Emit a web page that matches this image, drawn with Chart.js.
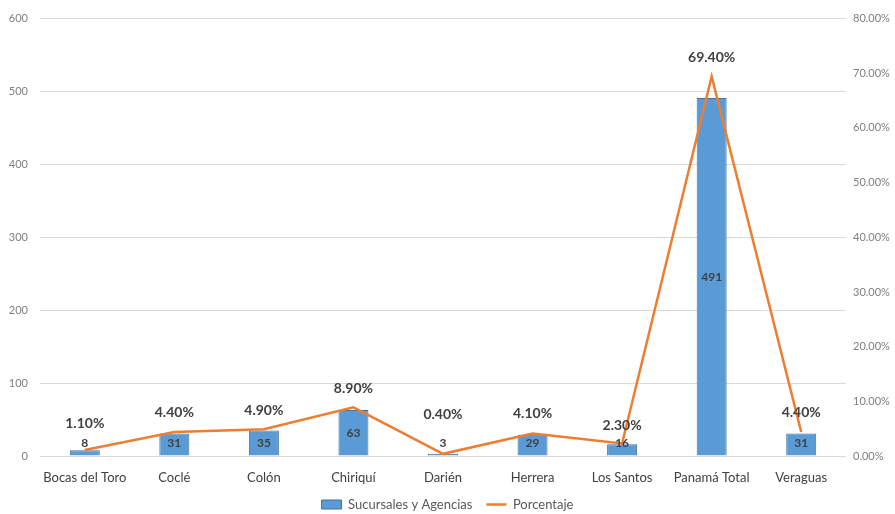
<!DOCTYPE html>
<html>
<head>
<meta charset="utf-8">
<script src="https://cdn.jsdelivr.net/npm/chart.js@4/dist/chart.umd.min.js"></script>
<style>
  html, body { margin: 0; padding: 0; background: #ffffff; }
  #wrap { width: 895px; height: 514px; position: relative; }
</style>
</head>
<body>
<div id="wrap"><canvas id="c"></canvas></div>
<script>
const categories = ['Bocas del Toro', 'Coclé', 'Colón', 'Chiriquí', 'Darién', 'Herrera', 'Los Santos', 'Panamá Total', 'Veraguas'];
const sucursales = [8, 31, 35, 63, 3, 29, 16, 491, 31];
const porcentaje = [0.011, 0.044, 0.049, 0.089, 0.004, 0.041, 0.023, 0.694, 0.044];
const leftTicks = [0, 100, 200, 300, 400, 500, 600];
const rightTicks = [0, 0.1, 0.2, 0.3, 0.4, 0.5, 0.6, 0.7, 0.8];

const FONT = 'Lato, "Open Sans", sans-serif';

const labelsPlugin = {
  id: 'valueLabels',
  afterDatasetsDraw(chart, args, opts) {
    const ctx = chart.ctx;
    const area = chart.chartArea;
    ctx.save();
    ctx.textAlign = 'center';
    ctx.textBaseline = 'middle';
    const barMeta = chart.getDatasetMeta(0);
    ctx.font = 'bold 12px ' + FONT;
    ctx.fillStyle = '#404040';
    barMeta.data.forEach((el, i) => {
      const p = el.getProps(['x', 'y', 'base'], true);
      let y = (p.y + p.base) / 2;
      y = Math.min(y, area.bottom - 13);
      ctx.fillText(String(sucursales[i]), p.x, y);
    });
    const lineMeta = chart.getDatasetMeta(1);
    ctx.font = 'bold 14px ' + FONT;
    const offs = opts.offsets || [];
    lineMeta.data.forEach((el, i) => {
      const p = el.getProps(['x', 'y'], true);
      const off = offs[i] != null ? offs[i] : 19;
      ctx.fillText((porcentaje[i] * 100).toFixed(2) + '%', p.x, p.y - off);
    });
    ctx.restore();
  }
};

new Chart(document.getElementById('c'), {
  type: 'bar',
  data: {
    labels: categories,
    datasets: [
      {
        type: 'bar',
        label: 'Sucursales y Agencias',
        data: sucursales,
        yAxisID: 'y',
        backgroundColor: '#5B9BD5',
        borderColor: '#41719C',
        borderWidth: 1,
        categoryPercentage: 1,
        barPercentage: 0.335,
        order: 1
      },
      {
        type: 'line',
        label: 'Porcentaje',
        data: porcentaje,
        yAxisID: 'y1',
        borderColor: '#ED7D31',
        backgroundColor: '#ED7D31',
        borderWidth: 2.5,
        pointRadius: 0,
        tension: 0,
        fill: false,
        order: 0
      }
    ]
  },
  options: {
    responsive: true,
    maintainAspectRatio: false,
    animation: false,
    layout: { padding: { top: 16, bottom: -7, left: 0, right: 0 } },
    plugins: {
      tooltip: { enabled: false },
      valueLabels: { offsets: [27, 19, 19, 19, 39, 20, 18, 19, 19] },
      legend: {
        position: 'bottom',
        labels: {
          usePointStyle: true,
          pointStyleWidth: 20,
          boxHeight: 9,
          padding: 14,
          color: '#595959',
          font: { family: FONT, size: 13 },
          sort: (a, b) => a.datasetIndex - b.datasetIndex,
          generateLabels(chart) {
            const items = Chart.defaults.plugins.legend.labels.generateLabels(chart);
            items.forEach(it => {
              it.pointStyle = it.datasetIndex === 0 ? 'rect' : 'line';
              if (it.datasetIndex === 0) { it.lineWidth = 1; }
            });
            return items;
          }
        }
      }
    },
    scales: {
      x: {
        grid: { display: false, drawTicks: false },
        border: { display: false },
        ticks: { color: '#404040', font: { family: FONT, size: 13 }, padding: 14, maxRotation: 0, autoSkip: false },
        afterFit(scale) { scale.height = 28; }
      },
      y: {
        position: 'left',
        min: 0, max: 600,
        afterBuildTicks(scale) { scale.ticks = leftTicks.map(v => ({ value: v })); },
        grid: { color: '#d9d9d9', drawTicks: false, lineWidth: 1 },
        border: { display: false },
        ticks: { color: '#7f7f7f', font: { family: FONT, size: 11 }, padding: 12 },
        afterFit(scale) { scale.width = 40; }
      },
      y1: {
        position: 'right',
        min: 0, max: 0.8,
        afterBuildTicks(scale) { scale.ticks = rightTicks.map(v => ({ value: v })); },
        grid: { drawOnChartArea: false, drawTicks: false },
        border: { display: false },
        ticks: {
          color: '#7f7f7f', font: { family: FONT, size: 11 }, padding: 7,
          callback: v => (v * 100).toFixed(2) + '%'
        },
        afterFit(scale) { scale.width = 49; }
      }
    }
  },
  plugins: [labelsPlugin]
});
</script>
</body>
</html>
